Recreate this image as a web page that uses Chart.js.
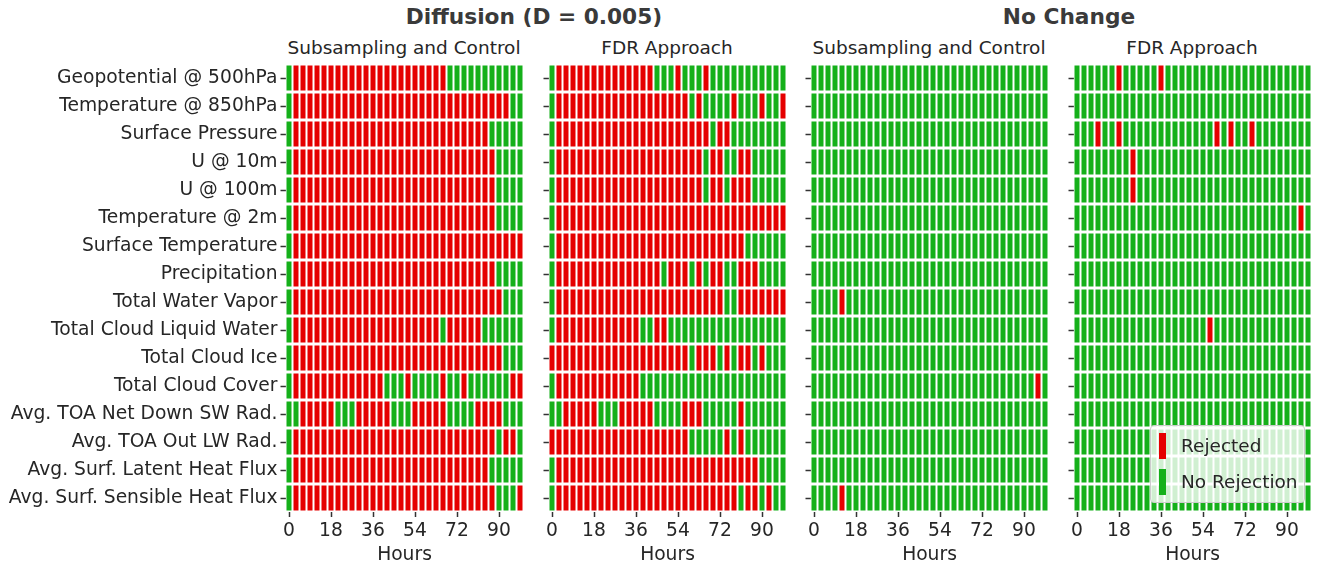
<!DOCTYPE html>
<html lang="en">
<head>
<meta charset="utf-8">
<title>Hypothesis test rejections by lead time</title>
<script src="https://cdn.jsdelivr.net/npm/chart.js@4.4.1/dist/chart.umd.min.js"></script>
<style>
  html, body { margin: 0; padding: 0; background: #ffffff; }
  body { position: relative; width: 1318px; height: 566px; overflow: hidden;
         font-family: "DejaVu Sans", sans-serif; color: #262626; }
  .box { position: absolute; }
  .heading { position: absolute; top: 4px; font-size: 21.7px; font-weight: bold; color: #3a3a3a;
             white-space: nowrap; transform: translateX(-50%); line-height: 26px; }
  .sub { position: absolute; top: 36px; font-size: 18.5px; white-space: nowrap;
         transform: translateX(-50%); line-height: 24px; }
  .legend { position: absolute; left: 1150px; top: 425px; width: 155px; height: 78px;
            background: rgba(255,255,255,0.8); border: 1px solid #cccccc; border-radius: 4px;
            box-sizing: border-box; font-size: 18.5px; }
  .legend .item { position: absolute; left: 8px; height: 26px; }
  .legend .sw { position: absolute; left: 0; top: 0; width: 7px; height: 26px; }
  .legend .lbl { position: absolute; left: 22px; top: 0; line-height: 26px; white-space: nowrap; }
</style>
</head>
<body>
<script>
// Forecast lead times (hours) and the labelled ticks on the x axis
const hours = [0, 3, 6, 9, 12, 15, 18, 21, 24, 27, 30, 33, 36, 39, 42, 45, 48,
               51, 54, 57, 60, 63, 66, 69, 72, 75, 78, 81, 84, 87, 90, 93, 96, 99];
const hourTicks = [0, 18, 36, 54, 72, 90];

const variables = [
  'Geopotential @ 500hPa', 'Temperature @ 850hPa', 'Surface Pressure', 'U @ 10m', 'U @ 100m',
  'Temperature @ 2m', 'Surface Temperature', 'Precipitation', 'Total Water Vapor',
  'Total Cloud Liquid Water', 'Total Cloud Ice', 'Total Cloud Cover', 'Avg. TOA Net Down SW Rad.',
  'Avg. TOA Out LW Rad.', 'Avg. Surf. Latent Heat Flux', 'Avg. Surf. Sensible Heat Flux'
];

const groupTitles = ['Diffusion (D = 0.005)', 'No Change'];
const methodTitles = ['Subsampling and Control', 'FDR Approach', 'Subsampling and Control', 'FDR Approach'];
const legendLabels = ['Rejected', 'No Rejection'];

// One string per variable, one character per lead time: 1 = rejected, 0 = no rejection.
// Spaces only group the lead times in blocks of 18 h.
const diffusionSubsampling = [
  '011111 111111 111111 111110 000000 0000',
  '011111 111111 111111 111111 111111 1100',
  '011111 111111 111111 111111 111110 0000',
  '011111 111111 111111 111111 111111 0000',
  '011111 111111 111111 111111 111111 0000',
  '011111 111111 111111 111111 111111 0000',
  '011111 111111 111111 111111 111111 1111',
  '011111 111111 111111 111111 111111 0000',
  '011111 111111 111111 111111 111111 1000',
  '011111 111111 111111 111101 111100 0000',
  '011111 111111 111111 111111 111111 1000',
  '011111 111111 110001 000010 010000 0011',
  '001111 100011 111000 111110 000111 1000',
  '011111 111111 111111 111111 111111 0110',
  '011111 111111 111111 111111 111110 0000',
  '011111 111111 111111 111111 111111 0001'
];
const diffusionFDR = [
  '011111 111111 111000 100010 000000 0000',
  '011111 111111 111111 110100 001000 1001',
  '011111 111111 111111 111110 110000 0000',
  '011111 111111 111111 111101 100110 0000',
  '011111 111111 111111 111101 101110 0000',
  '011111 111111 111111 111111 111111 1111',
  '011111 111111 111111 111111 111100 0000',
  '011111 111111 111101 110101 100111 0000',
  '011111 111111 111111 111111 100111 1111',
  '011111 111111 100110 000000 000000 0000',
  '111111 111111 111111 110111 010110 1000',
  '011111 111111 100000 000000 000000 0000',
  '001111 100011 111000 011100 000100 0000',
  '111111 111111 111111 110000 010100 0000',
  '011111 111111 111111 111111 111111 0000',
  '011111 111111 111111 111111 111011 0100'
];
const noChangeSubsampling = [
  '000000 000000 000000 000000 000000 0000',
  '000000 000000 000000 000000 000000 0000',
  '000000 000000 000000 000000 000000 0000',
  '000000 000000 000000 000000 000000 0000',
  '000000 000000 000000 000000 000000 0000',
  '000000 000000 000000 000000 000000 0000',
  '000000 000000 000000 000000 000000 0000',
  '000000 000000 000000 000000 000000 0000',
  '000010 000000 000000 000000 000000 0000',
  '000000 000000 000000 000000 000000 0000',
  '000000 000000 000000 000000 000000 0000',
  '000000 000000 000000 000000 000000 0010',
  '000000 000000 000000 000000 000000 0000',
  '000000 000000 000000 000000 000000 0000',
  '000000 000000 000000 000000 000000 0000',
  '000010 000000 000000 000000 000000 0000'
];
const noChangeFDR = [
  '000000 100000 100000 000000 000000 0000',
  '000000 000000 000000 000000 000000 0000',
  '000100 100000 000000 001010 010000 0000',
  '000000 001000 000000 000000 000000 0000',
  '000000 001000 000000 000000 000000 0000',
  '000000 000000 000000 000000 000000 0010',
  '000000 000000 000000 000000 000000 0000',
  '000000 000000 000000 000000 000000 0000',
  '000000 000000 000000 000000 000000 0000',
  '000000 000000 000000 010000 000000 0000',
  '000000 000000 000000 000000 000000 0000',
  '000000 000000 000000 000000 000000 0000',
  '000000 000000 000000 000000 000000 0000',
  '000000 000000 000000 000000 000000 0000',
  '000000 000000 000000 000000 000000 0000',
  '000000 000000 000000 000000 000000 0000'
];

// ---- styling / layout ----
const REJECT_COLOR = '#e50000';
const KEEP_COLOR = '#15b01a';
const TEXT_COLOR = '#262626';
const TICK_COLOR = '#333333';
const FONT_FAMILY = '"DejaVu Sans", sans-serif';
const FONT_SIZE = 18.7;

const PANEL_W = 238;     // plot area width of each grid
const TOP = 60;          // top of each chart canvas
const HEIGHT = 506;      // canvas height
const PAD_TOP = 4;
const PAD_RIGHT = 4;
const X_AXIS_H = 54;
const SUBPIXEL = 0.5;    // half-pixel offset gives the cells soft anti-aliased edges

const panels = [
  { rows: diffusionSubsampling, left: 285,  axisW: 285, labels: true },
  { rows: diffusionFDR,         left: 548,  axisW: 8,   labels: false },
  { rows: noChangeSubsampling,  left: 810,  axisW: 8,   labels: false },
  { rows: noChangeFDR,          left: 1073, axisW: 8,   labels: false }
];
const groupCenters = [534, 1069];

const halfStep = (hours[1] - hours[0]) / 2;

function addText(cls, text, x) {
  const el = document.createElement('div');
  el.className = cls;
  el.style.left = x + 'px';
  el.textContent = text;
  document.body.appendChild(el);
}

groupTitles.forEach((t, i) => addText('heading', t, groupCenters[i]));
methodTitles.forEach((t, i) => addText('sub', t, panels[i].left + PANEL_W / 2));

panels.forEach((p) => {
  const box = document.createElement('div');
  box.className = 'box';
  box.style.left = (p.left - p.axisW) + 'px';
  box.style.top = TOP + 'px';
  box.style.width = (p.axisW + PANEL_W + PAD_RIGHT) + 'px';
  box.style.height = HEIGHT + 'px';
  const canvas = document.createElement('canvas');
  box.appendChild(canvas);
  document.body.appendChild(box);

  const grid = p.rows.map(s => s.replace(/\s+/g, ''));

  // one floating-bar dataset per lead time; each bar spans that lead time's cell
  const datasets = hours.map((h, k) => ({
    label: h + ' h',
    data: variables.map(() => [h - halfStep, h + halfStep]),
    backgroundColor: grid.map(r => (r[k] === '1' ? REJECT_COLOR : KEEP_COLOR)),
    borderColor: '#ffffff',
    borderWidth: 1,
    borderSkipped: false,
    inflateAmount: 0,
    barPercentage: 27 / 28,
    categoryPercentage: 1,
    grouped: false
  }));

  new Chart(canvas, {
    type: 'bar',
    data: { labels: variables, datasets },
    options: {
      indexAxis: 'y',
      responsive: true,
      maintainAspectRatio: false,
      animation: false,
      devicePixelRatio: 1,
      events: [],
      layout: { padding: { top: PAD_TOP, right: PAD_RIGHT - SUBPIXEL, left: 0, bottom: 0 } },
      plugins: { legend: { display: false }, tooltip: { enabled: false }, title: { display: false } },
      scales: {
        x: {
          type: 'linear',
          min: hours[0] - halfStep,
          max: hours[hours.length - 1] + halfStep,
          afterBuildTicks: s => { s.ticks = hourTicks.map(v => ({ value: v })); },
          afterFit: s => { s.height = X_AXIS_H; s.paddingLeft = 0; s.paddingRight = 0; },
          grid: { drawOnChartArea: false, drawTicks: true, tickLength: 5, tickWidth: 1.5, tickColor: TICK_COLOR },
          border: { display: false },
          ticks: { font: { family: FONT_FAMILY, size: FONT_SIZE }, color: TEXT_COLOR, padding: 3,
                   maxRotation: 0, autoSkip: false },
          title: { display: true, text: 'Hours', font: { family: FONT_FAMILY, size: FONT_SIZE },
                   color: TEXT_COLOR, padding: { top: 0, bottom: 0 } }
        },
        y: {
          type: 'category',
          offset: true,
          afterFit: s => { s.width = p.axisW + SUBPIXEL; s.paddingTop = 0; s.paddingBottom = 0; },
          grid: { drawOnChartArea: false, drawTicks: true, tickLength: 5, tickWidth: 1.5,
                  tickColor: TICK_COLOR, offset: false },
          border: { display: false },
          ticks: { display: p.labels, font: { family: FONT_FAMILY, size: FONT_SIZE }, color: TEXT_COLOR,
                   padding: 3, autoSkip: false }
        }
      }
    }
  });
});

// legend in the lower right of the last grid
const legend = document.createElement('div');
legend.className = 'legend';
[REJECT_COLOR, KEEP_COLOR].forEach((c, i) => {
  const item = document.createElement('div');
  item.className = 'item';
  item.style.top = (7 + i * 36) + 'px';
  const sw = document.createElement('div');
  sw.className = 'sw';
  sw.style.background = c;
  const lbl = document.createElement('div');
  lbl.className = 'lbl';
  lbl.textContent = legendLabels[i];
  item.appendChild(sw);
  item.appendChild(lbl);
  legend.appendChild(item);
});
document.body.appendChild(legend);
</script>
</body>
</html>
